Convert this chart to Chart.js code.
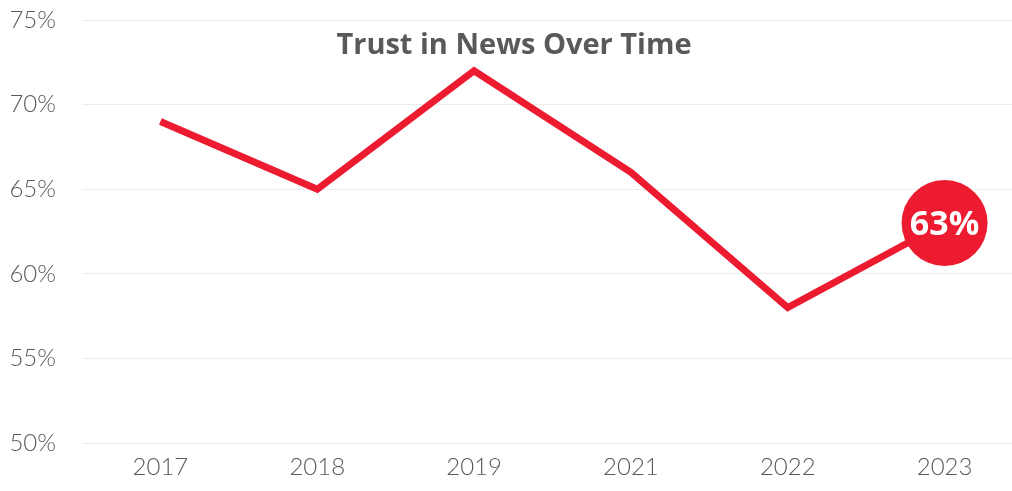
<!DOCTYPE html>
<html>
<head>
<meta charset="utf-8">
<script src="https://cdn.jsdelivr.net/npm/chart.js@4"></script>
<style>
  html, body { margin: 0; padding: 0; background: #fff; }
  #wrap { width: 1012px; height: 491px; overflow: hidden; position: relative; }
  #inner { position: absolute; left: 0; top: -23px; width: 1066px; height: 509px; }
</style>
</head>
<body>
<div id="wrap"><div id="inner"><canvas id="trust"></canvas></div></div>
<script>
// data
var years = ["2017", "2018", "2019", "2021", "2022", "2023"];
var trustValues = [69, 65, 72, 66, 58, 63];
var yTicks = [50, 55, 60, 65, 70, 75];

var red = "#ED1B2F";
var grey = "#595959";

// title drawn inside plot area (canvas is shifted up 23px)
var titlePlugin = {
  id: "innerTitle",
  afterDraw: function (chart) {
    var ctx = chart.ctx;
    ctx.save();
    ctx.font = "bold 29px 'Open Sans', sans-serif";
    ctx.fillStyle = grey;
    ctx.textAlign = "center";
    ctx.textBaseline = "middle";
    ctx.fillText("Trust in News Over Time", 514, 46 + 23);
    ctx.restore();
  }
};

// big label on last point
var lastLabel = {
  id: "lastLabel",
  afterDatasetsDraw: function (chart) {
    var meta = chart.getDatasetMeta(0);
    var last = meta.data[meta.data.length - 1];
    var ctx = chart.ctx;
    ctx.save();
    ctx.font = "bold 34px 'Open Sans', sans-serif";
    ctx.fillStyle = "#fff";
    ctx.textAlign = "center";
    ctx.textBaseline = "middle";
    ctx.fillText(trustValues[trustValues.length - 1] + "%", last.x, last.y + 2);
    ctx.restore();
  }
};

var ctx = document.getElementById("trust").getContext("2d");
var chart = new Chart(ctx, {
  type: "line",
  data: {
    labels: years,
    datasets: [
      {
        data: trustValues,
        borderColor: red,
        backgroundColor: red,
        borderWidth: 7,
        tension: 0,
        clip: false,
        pointRadius: trustValues.map(function (v, i) { return i === trustValues.length - 1 ? 43 : 0; }),
        pointHoverRadius: 43,
        pointBorderWidth: 0
      }
    ]
  },
  options: {
    responsive: true,
    maintainAspectRatio: false,
    animation: false,
    layout: { padding: { top: 5, right: 0, bottom: 0, left: 0 } },
    plugins: {
      legend: { display: false },
      tooltip: { enabled: false }
    },
    scales: {
      x: {
        offset: true,
        grid: { display: false },
        border: { display: false },
        ticks: {
          color: grey,
          font: { family: "Lato", size: 24, weight: "300" },
          padding: 2
        }
      },
      y: {
        min: 50,
        max: 75,
        afterBuildTicks: function (axis) {
          axis.ticks = yTicks.map(function (v) { return { value: v }; });
        },
        afterFit: function (axis) { axis.width = 82; },
        grid: { color: "#ececec", lineWidth: 1, drawTicks: false },
        border: { display: false },
        ticks: {
          color: grey,
          font: { family: "Lato", size: 24, weight: "300" },
          padding: 26,
          callback: function (v) { return v + "%"; }
        }
      }
    }
  },
  plugins: [titlePlugin, lastLabel]
});
</script>
</body>
</html>
